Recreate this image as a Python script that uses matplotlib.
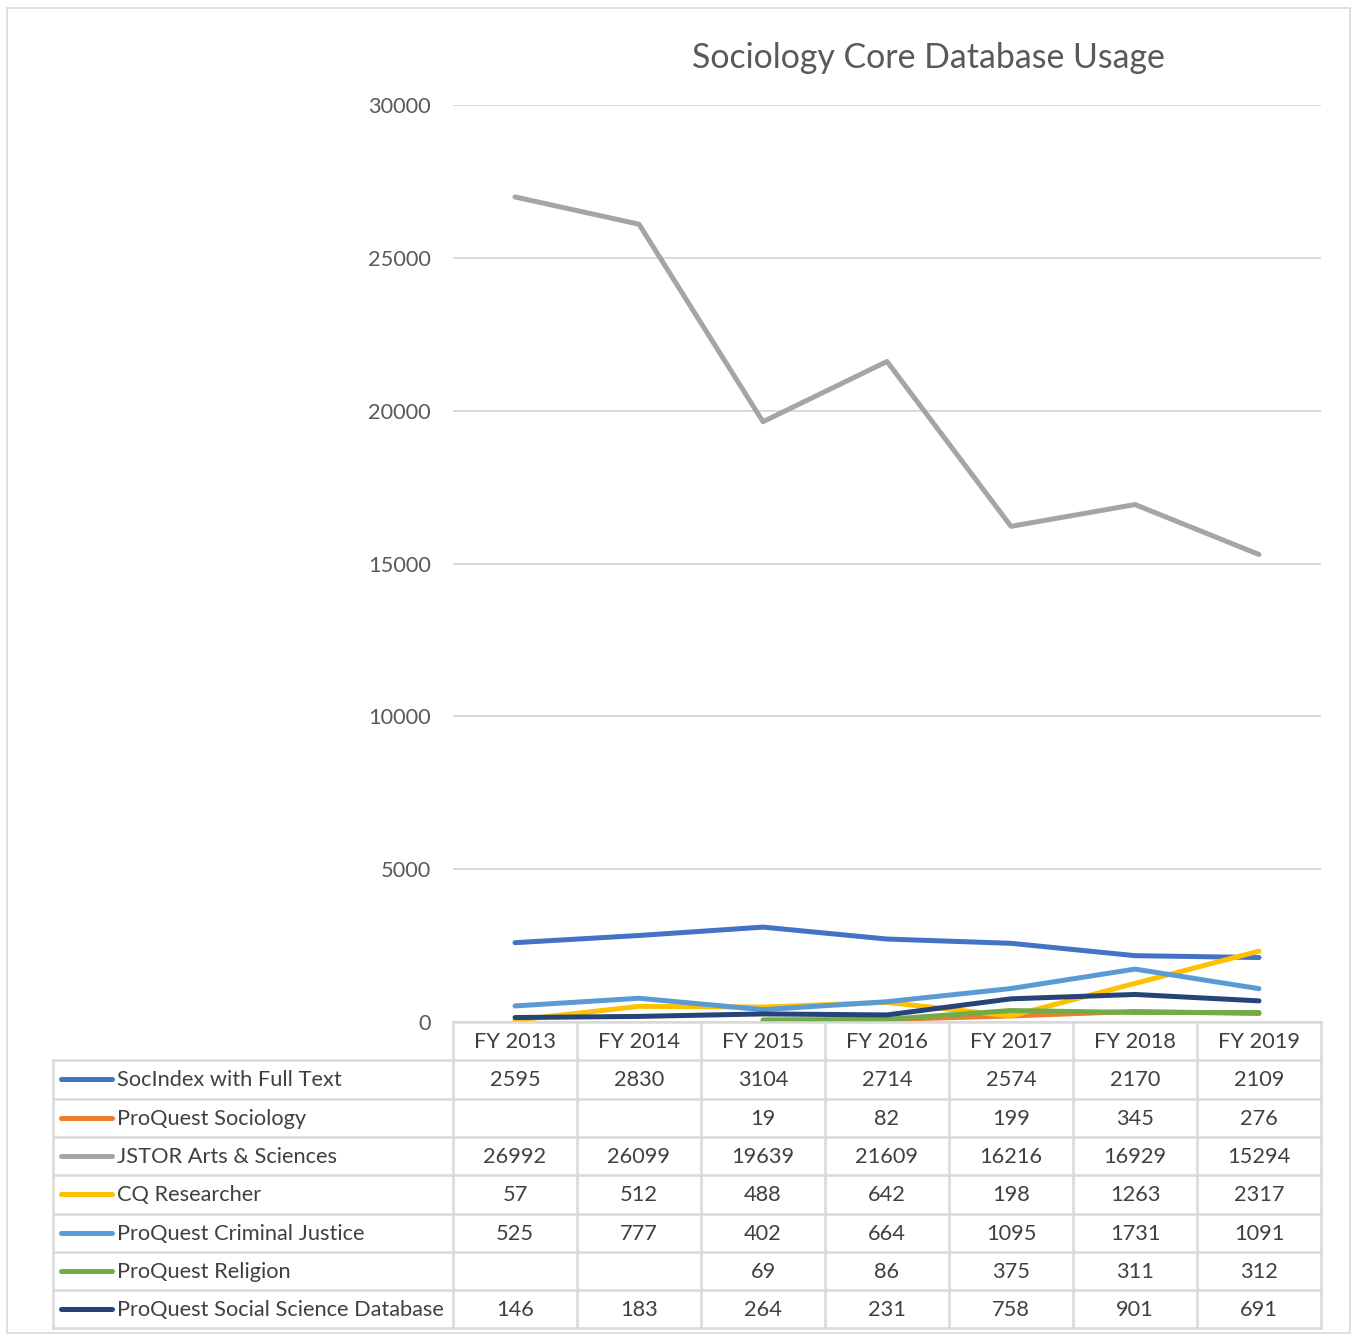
import numpy as np
import matplotlib.pyplot as plt
from matplotlib.transforms import blended_transform_factory
from matplotlib.patches import Rectangle

years = ['FY 2013', 'FY 2014', 'FY 2015', 'FY 2016', 'FY 2017', 'FY 2018', 'FY 2019']
names = ['SocIndex with Full Text', 'ProQuest Sociology', 'JSTOR Arts & Sciences',
         'CQ Researcher', 'ProQuest Criminal Justice', 'ProQuest Religion',
         'ProQuest Social Science Database']
socindex = [2595, 2830, 3104, 2714, 2574, 2170, 2109]
pq_sociology = [None, None, 19, 82, 199, 345, 276]
jstor = [26992, 26099, 19639, 21609, 16216, 16929, 15294]
cq = [57, 512, 488, 642, 198, 1263, 2317]
pq_criminal = [525, 777, 402, 664, 1095, 1731, 1091]
pq_religion = [None, None, 69, 86, 375, 311, 312]
pq_socsci = [146, 183, 264, 231, 758, 901, 691]
colors = ['#4472C4', '#ED7D31', '#A5A5A5', '#FFC000', '#5B9BD5', '#70AD47', '#264478']
yticks = [0, 5000, 10000, 15000, 20000, 25000, 30000]

series = [socindex, pq_sociology, jstor, cq, pq_criminal, pq_religion, pq_socsci]

W, H = 1354, 1334
plt.rcParams['font.family'] = ['Lato', 'DejaVu Sans']
fig = plt.figure(figsize=(W / 100, H / 100), dpi=100)
FS = 15.7


def fx(px):
    return px / W


def fy(py):
    return 1 - py / H


# chart area border
fig.patches.append(Rectangle((fx(7), fy(1333)), fx(1350) - fx(7), fy(8) - fy(1333),
                             transform=fig.transFigure, fill=False, ec='#d9d9d9', lw=1.2))

ax = fig.add_axes([fx(453), fy(1022), fx(1321) - fx(453), fy(105) - fy(1022)])
x = np.arange(len(years))
for vals, c in zip(series, colors):
    y = np.array([np.nan if v is None else v for v in vals], dtype=float)
    ax.plot(x, y, color=c, lw=3.6, solid_capstyle='round', solid_joinstyle='round', zorder=3)

ax.set_xlim(-0.5, len(years) - 0.5)
ax.set_ylim(0, 30000)
ax.set_yticks(yticks)
ax.set_yticklabels([str(t) for t in yticks], color='#595959', fontsize=FS)
ax.tick_params(axis='y', length=0, pad=16)
ax.set_xticks([])
ax.grid(axis='y', color='#d9d9d9', lw=1.4)
for s in ax.spines.values():
    s.set_visible(False)

fig.text(fx(928), fy(58), 'Sociology Core Database Usage', ha='center', va='center',
         fontsize=24.4, color='#595959')

# data table
tr = blended_transform_factory(ax.transData, fig.transFigure)
row_h = 38.3
top = 1022
grid_kw = dict(color='#d9d9d9', lw=1.8, zorder=1)
# header row
fig.add_artist(plt.Line2D([fx(453), fx(1321)], [fy(top), fy(top)], transform=fig.transFigure, **grid_kw))
for i, yr in enumerate(years):
    fig.text(i, fy(top + row_h / 2 + 1), yr, transform=tr, ha='center', va='center',
             fontsize=FS, color='#404040')
for k in range(len(names) + 1):
    yy = top + row_h * (k + 1)
    fig.add_artist(plt.Line2D([fx(53), fx(1321)], [fy(yy), fy(yy)], transform=fig.transFigure, **grid_kw))
bottom = top + row_h * (len(names) + 1)
fig.add_artist(plt.Line2D([fx(53), fx(53)], [fy(top + row_h), fy(bottom)], transform=fig.transFigure, **grid_kw))
for i in range(len(years) + 1):
    xd = i - 0.5
    fig.add_artist(plt.Line2D([xd, xd], [fy(top), fy(bottom)], transform=tr, **grid_kw))

for k, (nm, vals, c) in enumerate(zip(names, series, colors)):
    yc = top + row_h * (k + 1.5)
    fig.add_artist(plt.Line2D([fx(61), fx(112)], [fy(yc), fy(yc)], transform=fig.transFigure,
                              color=c, lw=3.6, solid_capstyle='round'))
    fig.text(fx(117), fy(yc + 1), nm, ha='left', va='center', fontsize=FS, color='#404040')
    for i, v in enumerate(vals):
        if v is not None:
            fig.text(i, fy(yc + 1), str(v), transform=tr, ha='center', va='center',
                     fontsize=FS, color='#404040')

fig.savefig('out.png', dpi=100)
